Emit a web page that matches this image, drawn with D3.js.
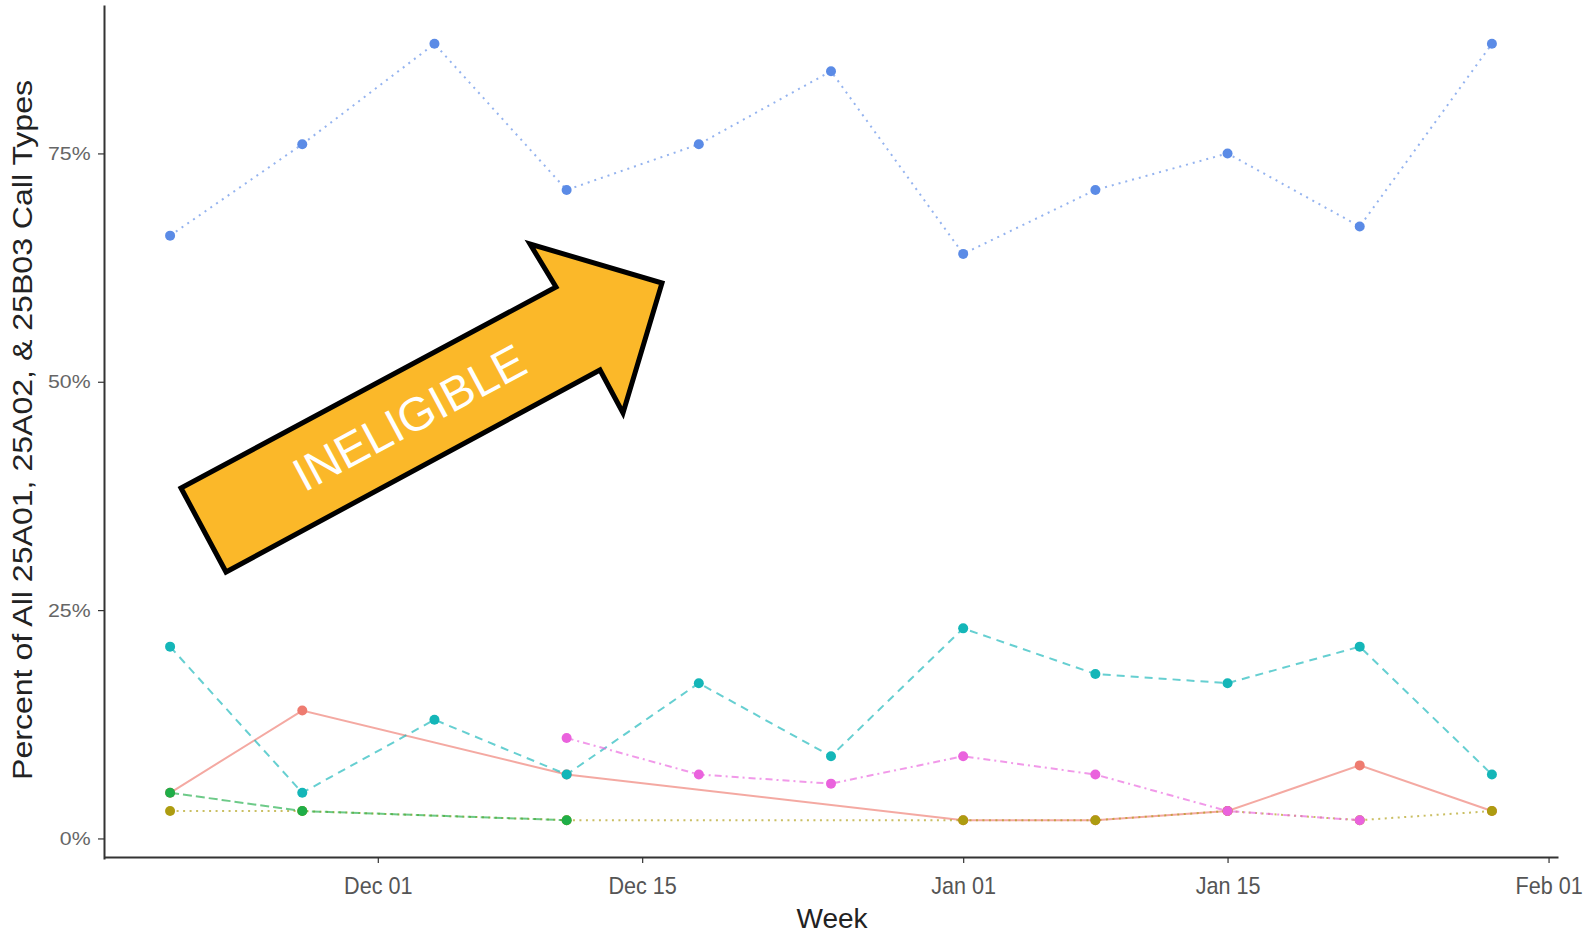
<!DOCTYPE html>
<html>
<head>
<meta charset="utf-8">
<script src="https://cdn.jsdelivr.net/npm/d3@7"></script>
<style>
  html, body { margin: 0; padding: 0; background: #fff; }
  svg { display: block; font-family: "Liberation Sans", Arial, sans-serif; }
</style>
</head>
<body>
<svg id="chart" width="1585" height="935"></svg>
<script>
// ---- DATA ----
const weeks = ["2018-11-20","2018-11-27","2018-12-04","2018-12-11","2018-12-18","2018-12-25",
               "2019-01-01","2019-01-08","2019-01-15","2019-01-22","2019-01-29"];
const seriesRed   = [5, 14, null, 7, null, null, 2, 2, 3, 8, 3];
const seriesOlive = [3, 3, null, 2, null, null, 2, 2, 3, 2, 3];
const seriesGreen = [5, 3, null, 2, null, null, null, null, null, null, null];
const seriesTeal  = [21, 5, 13, 7, 17, 9, 23, 18, 17, 21, 7];
const seriesBlue  = [66, 76, 87, 71, 76, 84, 64, 71, 75, 67, 87];
const seriesPink  = [null, null, null, 11, 7, 6, 9, 7, 3, 2, null];
const yTicks = [0, 25, 50, 75];
const xTickDates = ["2018-12-01","2018-12-15","2019-01-01","2019-01-15","2019-02-01"];
const yTitle = "Percent of All 25A01, 25A02, & 25B03 Call Types";
const xTitle = "Week";
const annotation = "INELIGIBLE";

// ---- STYLES ----
const series = [
  {values: seriesRed,   color: "#ee7b70", dash: null},
  {values: seriesOlive, color: "#ad9c10", dash: "2,4.5"},
  {values: seriesGreen, color: "#1fae48", dash: "9,4"},
  {values: seriesTeal,  color: "#14b6b8", dash: "8,6"},
  {values: seriesBlue,  color: "#5b8be6", dash: "2,5"},
  {values: seriesPink,  color: "#ea62dd", dash: "7,4,2,4"}
];

const parse = d3.utcParse("%Y-%m-%d");
const dates = weeks.map(parse);

const svg = d3.select("#chart");

const x = d3.scaleUtc()
  .domain([new Date(Date.UTC(2018,10,16,12)), new Date(Date.UTC(2019,1,1,12))])
  .range([104, 1558]);
const y = d3.scaleLinear().domain([-2.25, 91.25]).range([859, 5]);

// axes
const xAxis = d3.axisBottom(x)
  .tickValues(xTickDates.map(parse))
  .tickFormat(d3.utcFormat("%b %d"))
  .tickSize(6).tickSizeOuter(0).tickPadding(14);
const gx = svg.append("g").attr("transform", "translate(0,857)").call(xAxis);
gx.select(".domain").attr("stroke", "#333").attr("stroke-width", 2);
gx.selectAll(".tick line").attr("stroke", "#333").attr("stroke-width", 1.2);
gx.selectAll(".tick text").attr("fill", "#555").attr("font-size", 24)
  .attr("transform", "scale(0.9,1)")
  .attr("font-family", "'Liberation Sans', Arial, sans-serif");

const yAxis = d3.axisLeft(y)
  .tickValues(yTicks)
  .tickFormat(d => d + "%")
  .tickSize(6).tickSizeOuter(0).tickPadding(6);
const gy = svg.append("g").attr("transform", "translate(104,0)").call(yAxis);
gy.select(".domain").attr("stroke", "#333").attr("stroke-width", 2);
gy.selectAll(".tick line").attr("stroke", "#333").attr("stroke-width", 1.2);
gy.selectAll(".tick text").attr("fill", "#666").attr("font-size", 19)
  .attr("transform", "scale(1.12,1)")
  .attr("font-family", "'Liberation Sans', Arial, sans-serif");

// titles
svg.append("text")
  .attr("transform", "translate(32,430) rotate(-90)")
  .attr("text-anchor", "middle")
  .attr("font-size", 27)
  .attr("fill", "#222")
  .attr("textLength", 700).attr("lengthAdjust", "spacingAndGlyphs")
  .text(yTitle);
svg.append("text")
  .attr("x", 832).attr("y", 928)
  .attr("text-anchor", "middle")
  .attr("font-size", 28)
  .attr("fill", "#222")
  .text(xTitle);

// lines
const line = d3.line().x(d => x(d.date)).y(d => y(d.v));
series.forEach(s => {
  const pts = dates.map((d, i) => ({date: d, v: s.values[i]})).filter(p => p.v !== null);
  svg.append("path")
    .datum(pts)
    .attr("d", line)
    .attr("fill", "none")
    .attr("stroke", s.color)
    .attr("stroke-opacity", 0.65)
    .attr("stroke-width", 2)
    .attr("stroke-dasharray", s.dash);
});
// points
series.forEach(s => {
  const pts = dates.map((d, i) => ({date: d, v: s.values[i]})).filter(p => p.v !== null);
  svg.append("g").selectAll("circle").data(pts).join("circle")
    .attr("cx", p => x(p.date)).attr("cy", p => y(p.v))
    .attr("r", 5).attr("fill", s.color);
});

// annotation arrow
const arrowPts = [[181,488],[226,572],[600,370],[623,413],[662,283],[530,244],[556,287]];
svg.append("polygon")
  .attr("points", arrowPts.map(p => p.join(",")).join(" "))
  .attr("fill", "#FBB829")
  .attr("stroke", "#000")
  .attr("stroke-width", 5)
  .attr("stroke-linejoin", "miter");
svg.append("text")
  .attr("transform", "translate(417,432) rotate(-28.2)")
  .attr("text-anchor", "middle")
  .attr("font-size", 47)
  .attr("fill", "#fff")
  .text(annotation);
</script>
</body>
</html>
